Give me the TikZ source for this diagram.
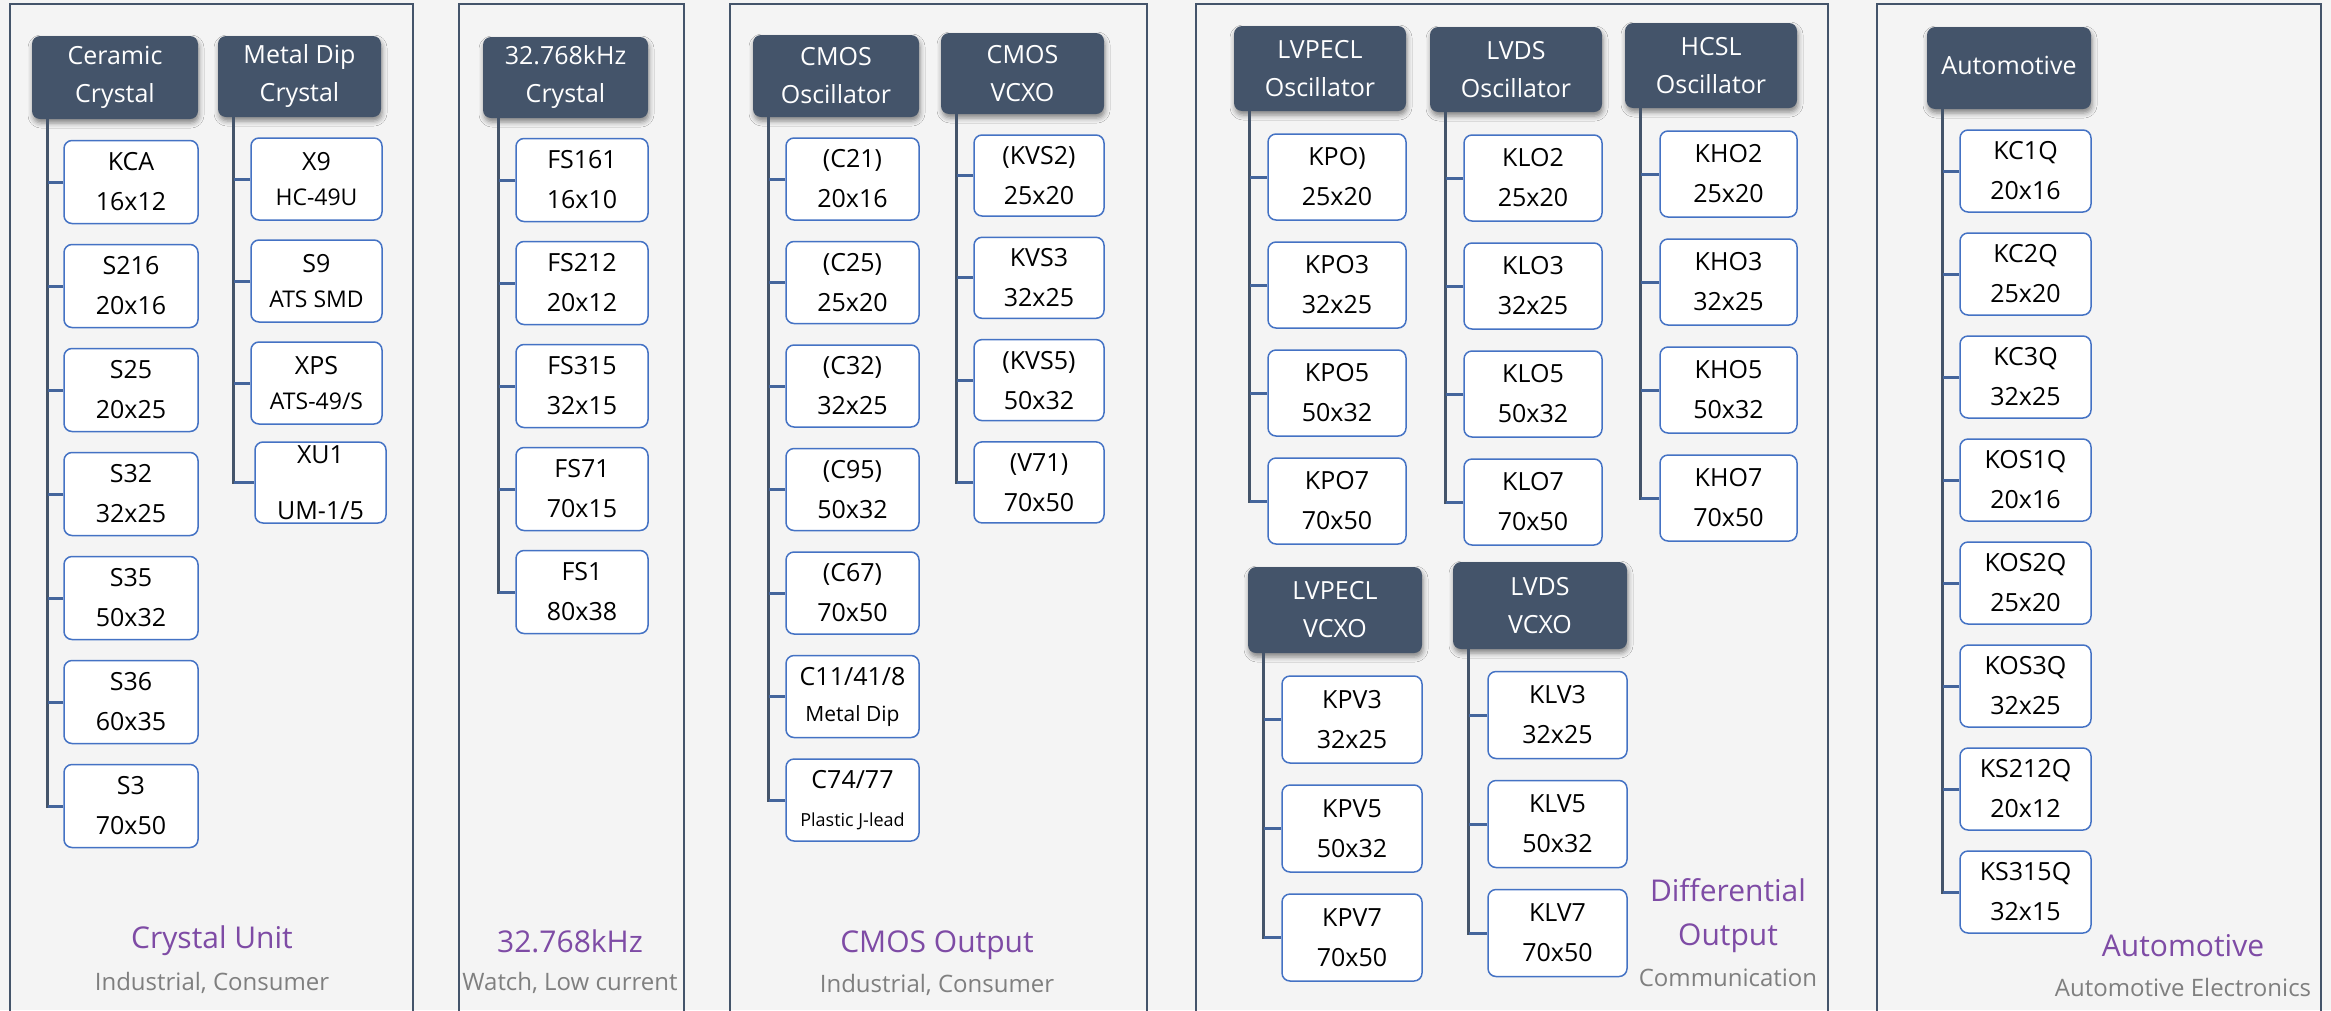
\documentclass[tikz,border=0pt]{standalone}
\usepackage{fontspec}
\setmainfont{Open Sans}
\usetikzlibrary{shadows.blur}
\definecolor{slate}{HTML}{44546A}
\definecolor{boxblue}{HTML}{4472C4}
\definecolor{titlepurple}{HTML}{7E4BA5}
\definecolor{notegray}{HTML}{7F7F7F}
\definecolor{paper}{HTML}{F4F4F4}
\newcommand\subsz[2]{{\fontsize{#1}{#1}\selectfont #2}}
\tikzset{
  panelbox/.style={draw=slate, line width=2.5pt},
  headbox/.style={fill=slate, text=white, rounded corners=8pt, align=center, inner sep=0pt,
    font=\fontsize{25}{38}\selectfont,
    blur shadow={shadow xshift=1pt, shadow yshift=-4pt, shadow blur radius=5pt, shadow opacity=45}},
  partbox/.style={fill=white, draw=boxblue, line width=1.5pt, rounded corners=8pt, align=center,
    inner sep=0pt, minimum width=134pt, minimum height=83pt, font=\fontsize{25}{40}\selectfont},
  trunkline/.style={draw=slate, line width=3pt},
  twigline/.style={draw=boxblue!55!slate, line width=3pt},
  grouptitle/.style={text=titlepurple, align=center, font=\fontsize{30}{44}\selectfont},
  groupnote/.style={text=notegray, font=\fontsize{24}{30}\selectfont}
}
\begin{document}
\begin{tikzpicture}[x=1pt,y=-1pt]
\useasboundingbox[fill=paper] (0,0) rectangle (2331,1010);

\foreach \l/\r in {10/413,459/684,730/1147,1196/1828,1877/2321}
  \draw[panelbox] (\l,1020) |- (\r,4) -- (\r,1020);

\node[headbox, minimum width=166pt, minimum height=83pt] (cer) at (115,77.5) {Ceramic\\Crystal};
\node[headbox, minimum width=163pt, minimum height=81pt] (dip) at (299.5,76.5) {Metal Dip\\Crystal};
\node[headbox, minimum width=165pt, minimum height=81pt] (khz) at (565.5,77.5) {32.768kHz\\Crystal};
\node[headbox, minimum width=166pt, minimum height=82pt] (cmo) at (836,76) {CMOS\\Oscillator};
\node[headbox, minimum width=163pt, minimum height=81pt] (cmv) at (1022.5,73.5) {CMOS\\VCXO};
\node[headbox, minimum width=172pt, minimum height=85pt] (peo) at (1320,68.5) {LVPECL\\Oscillator};
\node[headbox, minimum width=172pt, minimum height=85pt] (ldo) at (1516,69.5) {LVDS\\Oscillator};
\node[headbox, minimum width=172pt, minimum height=85pt] (hco) at (1711,65.5) {HCSL\\Oscillator};
\node[headbox, minimum width=174pt, minimum height=86pt] (pev) at (1335,610) {LVPECL\\VCXO};
\node[headbox, minimum width=174pt, minimum height=87pt] (ldv) at (1540,605.5) {LVDS\\VCXO};
\node[headbox, minimum width=164pt, minimum height=82pt] (aut) at (2009,68) {\raisebox{6pt}{Automotive}};

\foreach \nm/\sz [count=\i] in {KCA/16x12,S216/20x16,S25/20x25,S32/32x25,S35/50x32,S36/60x35,S3/70x50}
  \node[partbox] (cer\i) at (131,{182+104*(\i-1)}) {\nm\\\sz};
\node[partbox, minimum width=131pt, minimum height=82pt, font=\fontsize{25}{35}\selectfont] (dip1) at (316.5,179) {X9\\\subsz{23}{HC-49U}};
\node[partbox, minimum width=131pt, minimum height=82pt, font=\fontsize{25}{35}\selectfont] (dip2) at (316.5,281) {S9\\\subsz{23}{ATS SMD}};
\node[partbox, minimum width=131pt, minimum height=82pt, font=\fontsize{25}{35}\selectfont] (dip3) at (316.5,383) {XPS\\\subsz{23}{ATS-49/S}};
\node[partbox, minimum width=131pt, minimum height=81pt] (dip4) at (320.5,482.5) {XU1\\[16pt]UM-1/5};

\foreach \nm/\sz [count=\i] in {FS161/16x10,FS212/20x12,FS315/32x15,FS71/70x15,FS1/80x38}
  \node[partbox, minimum width=132pt] (khz\i) at (582,{180+103*(\i-1)}) {\nm\\\sz};

\foreach \nm/\sz [count=\i] in {{(C21)}/20x16,{(C25)}/25x20,{(C32)}/32x25,{(C95)}/50x32,{(C67)}/70x50}
  \node[partbox, minimum width=133pt, minimum height=82pt] (cmo\i) at (852.5,{179+103.5*(\i-1)}) {\nm\\\sz};
\node[partbox, minimum width=133pt, minimum height=82pt, font=\fontsize{25}{36}\selectfont] (cmo6) at (852.5,696.5) {C11/41/8\\\subsz{21}{Metal Dip}};
\node[partbox, minimum width=133pt, minimum height=82pt, font=\fontsize{25}{38}\selectfont] (cmo7) at (852.5,800) {C74/77\\\subsz{18}{Plastic J-lead}};

\foreach \nm/\sz [count=\i] in {{(KVS2)}/25x20,KVS3/32x25,{(KVS5)}/50x32,{(V71)}/70x50}
  \node[partbox, minimum width=130pt, minimum height=81pt] (cmv\i) at (1039,{175.5+102.3*(\i-1)}) {\nm\\\sz};

\foreach \nm/\sz [count=\i] in {{KPO)}/25x20,KPO3/32x25,KPO5/50x32,KPO7/70x50}
  \node[partbox, minimum width=138pt, minimum height=86pt] (peo\i) at (1337,{177+108*(\i-1)}) {\nm\\\sz};
\foreach \nm/\sz [count=\i] in {KLO2/25x20,KLO3/32x25,KLO5/50x32,KLO7/70x50}
  \node[partbox, minimum width=138pt, minimum height=86pt] (ldo\i) at (1533,{178+108*(\i-1)}) {\nm\\\sz};
\foreach \nm/\sz [count=\i] in {KHO2/25x20,KHO3/32x25,KHO5/50x32,KHO7/70x50}
  \node[partbox, minimum width=137pt, minimum height=86pt] (hco\i) at (1728.5,{174+108*(\i-1)}) {\nm\\\sz};
\foreach \nm/\sz [count=\i] in {KPV3/32x25,KPV5/50x32,KPV7/70x50}
  \node[partbox, minimum width=140pt, minimum height=87pt] (pev\i) at (1352,{719.5+109*(\i-1)}) {\nm\\\sz};
\foreach \nm/\sz [count=\i] in {KLV3/32x25,KLV5/50x32,KLV7/70x50}
  \node[partbox, minimum width=139pt, minimum height=87pt] (ldv\i) at (1557.5,{715+109*(\i-1)}) {\nm\\\sz};

\foreach \nm/\sz [count=\i] in {KC1Q/20x16,KC2Q/25x20,KC3Q/32x25,KOS1Q/20x16,KOS2Q/25x20,KOS3Q/32x25,KS212Q/20x12,KS315Q/32x15}
  \node[partbox, minimum width=131pt, minimum height=82pt] (aut\i) at (2025.5,{171+103*(\i-1)}) {\nm\\\sz};

\foreach \h/\n in {cer/7,dip/4,khz/5,cmo/7,cmv/4,peo/4,ldo/4,hco/4,pev/3,ldv/3,aut/8} {
  \coordinate (\h t) at ([xshift=16pt]\h.south west);
  \draw[trunkline] (\h t) |- (\h\n.west);
  \foreach \i in {1,...,\n}
    \draw[twigline] (\h\i.west) -- (\h\i.west -| \h t);
}

\node[grouptitle] (ttl1) at (212,941) {Crystal Unit};
\node[groupnote] (nt1) at (212,983) {Industrial, Consumer};
\node[grouptitle] (ttl2) at (570,941) {32.768kHz};
\node[groupnote] (nt2) at (570,983) {Watch, Low current};
\node[grouptitle] (ttl3) at (937,945) {CMOS Output};
\node[groupnote] (nt3) at (937,985) {Industrial, Consumer};
\node[grouptitle] (ttl4) at (1728,916) {Differential\\Output};
\node[groupnote] (nt4) at (1728,978) {Communication};
\node[grouptitle] (ttl5) at (2183,946) {Automotive};
\node[groupnote] (nt5) at (2183,987) {Automotive Electronics};
\end{tikzpicture}
\end{document}
